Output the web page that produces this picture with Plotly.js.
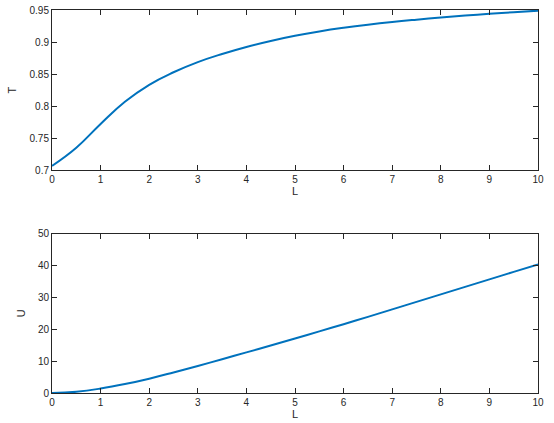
<!DOCTYPE html>
<html>
<head>
<meta charset="utf-8">
<script src="https://cdn.plot.ly/plotly-3.0.1.min.js"></script>
<style>
  body { margin: 0; background: #fff; }
  #chart { width: 554px; height: 423px; }
</style>
</head>
<body>
<div id="chart"></div>
<script>
// values
const L = [0, 0.5, 1, 1.5, 2, 2.5, 3, 3.5, 4, 4.5, 5, 5.5, 6, 6.5, 7, 7.5, 8, 8.5, 9, 9.5, 10];
const T = [0.7072, 0.7355, 0.7725, 0.807, 0.8335, 0.853, 0.8688, 0.8815, 0.8925, 0.9018, 0.9098, 0.9166, 0.9223, 0.9272,
           0.9314, 0.935, 0.9383, 0.9413, 0.944, 0.9466, 0.949];
const U = [0, 0.4, 1.4, 2.8, 4.5, 6.45, 8.5, 10.6, 12.75, 14.9, 17.1, 19.35, 21.6, 23.9,
           26.25, 28.6, 30.95, 33.3, 35.65, 38.0, 40.35];

const lineColor = '#0072BD';
const axisColor = '#262626';

function axisBase() {
    return {
        showline: true,
        linecolor: axisColor,
        linewidth: 1,
        mirror: 'ticks',
        ticks: 'inside',
        ticklen: 5,
        tickcolor: axisColor,
        showgrid: false,
        zeroline: false,
        tickfont: { size: 10, color: axisColor }
    };
}

const traces = [
    { x: L, y: T, xaxis: 'x', yaxis: 'y', mode: 'lines', line: { color: lineColor, width: 2, shape: 'spline', smoothing: 1.3 } },
    { x: L, y: U, xaxis: 'x2', yaxis: 'y2', mode: 'lines', line: { color: lineColor, width: 2, shape: 'spline', smoothing: 1.3 } }
];

const layout = {
    width: 554,
    height: 423,
    margin: { l: 52, r: 16, t: 10, b: 30 },
    paper_bgcolor: '#fff',
    plot_bgcolor: '#fff',
    showlegend: false,
    font: { family: 'Liberation Sans, Arial, sans-serif', color: axisColor },
    xaxis: { ...axisBase(), domain: [0, 1], anchor: 'y', range: [0, 10], dtick: 1,
             title: { text: 'L', font: { size: 11 }, standoff: 2 } },
    yaxis: { ...axisBase(), domain: [0.581, 1], anchor: 'x', range: [0.7, 0.95], dtick: 0.05,
             title: { text: 'T', font: { size: 11 }, standoff: 10 } },
    xaxis2: { ...axisBase(), domain: [0, 1], anchor: 'y2', range: [0, 10], dtick: 1,
              title: { text: 'L', font: { size: 11 }, standoff: 2 } },
    yaxis2: { ...axisBase(), domain: [0, 0.416], anchor: 'x2', range: [0, 50], dtick: 10,
              title: { text: 'U', font: { size: 11 }, standoff: 10 } }
};

Plotly.newPlot('chart', traces, layout, { displayModeBar: false, staticPlot: true });
</script>
</body>
</html>
